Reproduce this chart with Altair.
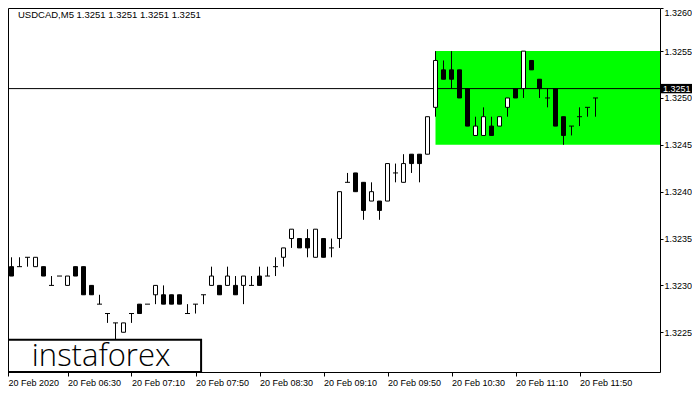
import altair as alt
import pandas as pd

# ---- data (USDCAD M5 candles, 05:50 .. 12:00) ----
opens = [1.3232, 1.3232, 1.3232, 1.3233, 1.3232, 1.3232, 1.3230, 1.3231, 1.3230, 1.3232,
         1.3232, 1.3230, 1.3228, 1.3227, 1.3226, 1.3225, 1.3227, 1.3228, 1.3228, 1.3229,
         1.3229, 1.3229, 1.3229, 1.3227, 1.3228, 1.3229, 1.3230, 1.3230, 1.3230, 1.3230,
         1.3230, 1.3230, 1.3231, 1.3231, 1.3232, 1.3233, 1.3235, 1.3235, 1.3235, 1.3233,
         1.3235, 1.3234, 1.3235, 1.3241, 1.3242, 1.3241, 1.3239, 1.3239, 1.3239, 1.3242,
         1.3241, 1.3244, 1.3244, 1.3244, 1.3249, 1.3253, 1.3253, 1.3253, 1.3251, 1.3246,
         1.3246, 1.3247, 1.3247, 1.3249, 1.3251, 1.3251, 1.3254, 1.3252, 1.3250, 1.3251,
         1.3248, 1.3247, 1.3248, 1.3249, 1.3250]
highs = [1.3233, 1.3233, 1.3233, 1.3233, 1.3233, 1.3232, 1.3231, 1.3231, 1.3231, 1.3232,
         1.3232, 1.3230, 1.3229, 1.3227, 1.3226, 1.3226, 1.3227, 1.3228, 1.3228, 1.3230,
         1.3230, 1.3229, 1.3229, 1.3228, 1.3228, 1.3229, 1.3232, 1.3230, 1.3232, 1.3231,
         1.3231, 1.3231, 1.3232, 1.3232, 1.3233, 1.3234, 1.3236, 1.3235, 1.3236, 1.3236,
         1.3235, 1.3235, 1.3240, 1.3242, 1.3242, 1.3241, 1.3241, 1.3239, 1.3243, 1.3243,
         1.3244, 1.3244, 1.3244, 1.3248, 1.3255, 1.3254, 1.3255, 1.3253, 1.3251, 1.3248,
         1.3249, 1.3248, 1.3248, 1.3250, 1.3251, 1.3255, 1.3254, 1.3252, 1.3251, 1.3251,
         1.3248, 1.3247, 1.3249, 1.3249, 1.3250]
lows = [1.3232, 1.3231, 1.3232, 1.3232, 1.3232, 1.3231, 1.3230, 1.3231, 1.3230, 1.3231,
        1.3229, 1.3229, 1.3228, 1.3226, 1.3223, 1.3225, 1.3226, 1.3227, 1.3228, 1.3228,
        1.3228, 1.3228, 1.3228, 1.3227, 1.3227, 1.3228, 1.3230, 1.3229, 1.3230, 1.3229,
        1.3228, 1.3230, 1.3230, 1.3231, 1.3231, 1.3232, 1.3234, 1.3234, 1.3233, 1.3233,
        1.3233, 1.3233, 1.3234, 1.3241, 1.3240, 1.3237, 1.3239, 1.3237, 1.3239, 1.3241,
        1.3241, 1.3242, 1.3241, 1.3244, 1.3248, 1.3252, 1.3251, 1.3250, 1.3247, 1.3246,
        1.3246, 1.3246, 1.3247, 1.3248, 1.3250, 1.3250, 1.3253, 1.3250, 1.3249, 1.3247,
        1.3245, 1.3246, 1.3247, 1.3248, 1.3248]
closes = [1.3233, 1.3231, 1.3232, 1.3233, 1.3233, 1.3231, 1.3230, 1.3231, 1.3231, 1.3231,
          1.3229, 1.3229, 1.3228, 1.3227, 1.3226, 1.3226, 1.3227, 1.3227, 1.3228, 1.3230,
          1.3228, 1.3228, 1.3228, 1.3227, 1.3228, 1.3229, 1.3231, 1.3229, 1.3231, 1.3229,
          1.3231, 1.3230, 1.3230, 1.3231, 1.3232, 1.3234, 1.3236, 1.3234, 1.3234, 1.3236,
          1.3233, 1.3234, 1.3240, 1.3241, 1.3240, 1.3238, 1.3240, 1.3238, 1.3243, 1.3242,
          1.3243, 1.3243, 1.3243, 1.3248, 1.3254, 1.3252, 1.3252, 1.3250, 1.3247, 1.3247,
          1.3248, 1.3246, 1.3248, 1.3250, 1.3250, 1.3255, 1.3253, 1.3251, 1.3250, 1.3247,
          1.3246, 1.3247, 1.3248, 1.3249, 1.3250]

tick_index = [0, 8, 16, 24, 32, 40, 48, 56, 64, 72]
tick_labels = ["20 Feb 2020", "20 Feb 06:30", "20 Feb 07:10", "20 Feb 07:50", "20 Feb 08:30",
               "20 Feb 09:10", "20 Feb 09:50", "20 Feb 10:30", "20 Feb 11:10", "20 Feb 11:50"]
y_ticks = [1.3225, 1.3230, 1.3235, 1.3240, 1.3245, 1.3250, 1.3255, 1.3260]

title_text = "USDCAD,M5  1.3251 1.3251 1.3251 1.3251"
last_price = 1.3251
zone_low, zone_high, zone_start = 1.3245, 1.3255, 54
logo_text = "instaforex"

# ---- scales ----
X_MIN, X_MAX = 0.5625, 82.0625
Y_MIN, Y_MAX = 1.322076, 1.32596
xs = alt.Scale(domain=[X_MIN, X_MAX], nice=False, zero=False)
ys = alt.Scale(domain=[Y_MIN, Y_MAX], nice=False, zero=False)
FONT = "Liberation Sans"

n = len(opens)
df = pd.DataFrame({"i": list(range(n)), "open": opens, "high": highs,
                   "low": lows, "close": closes})
df["bull"] = df["close"] > df["open"]
df["doji"] = df["close"] == df["open"]

x_vals = [max(t, X_MIN) for t in tick_index]
x_expr = "[" + ",".join("'%s'" % l for l in tick_labels) + "][indexof([" + \
         ",".join(str(v) for v in x_vals) + "], datum.value)]"
y_vals = [min(v, Y_MAX) for v in y_ticks]
y_expr = "datum.value > 1.32575 ? '1.3260' : format(datum.value, '.4f')"

x_axis = alt.Axis(values=x_vals, labelExpr=x_expr, title=None, grid=False, domain=False,
                  tickSize=4, tickColor="black", labelAlign="left", labelBaseline="top",
                  labelPadding=2, labelFont=FONT, labelFontSize=9, labelColor="black",
                  labelOverlap=False, labelFlush=False, labelBound=False)
y_axis = alt.Axis(values=y_vals, labelExpr=y_expr, title=None, grid=False, domain=False,
                  orient="right", tickSize=3, tickColor="black", labelAlign="left",
                  labelPadding=1, labelFont=FONT, labelFontSize=9, labelColor="black",
                  labelOverlap=False, labelFlush=True)


def X(field):
    return alt.X(field, scale=xs, axis=x_axis)


def Y(field):
    return alt.Y(field, scale=ys, axis=y_axis)


zone_df = pd.DataFrame({"x0": [zone_start], "x1": [X_MAX], "y0": [zone_low], "y1": [zone_high]})
zone = alt.Chart(zone_df).mark_rect(color="#00FF00").encode(
    x=X("x0:Q"), x2="x1", y=Y("y0:Q"), y2="y1")

hline = alt.Chart(pd.DataFrame({"p": [last_price]})).mark_rule(
    color="black", strokeWidth=1).encode(y=Y("p:Q"))

base = alt.Chart(df)
wicks = base.mark_rule(color="black", strokeWidth=1).encode(
    x=X("i:Q"), y=Y("low:Q"), y2="high")

bodies = base.transform_filter("!datum.doji").transform_calculate(
    xl="datum.i - 0.25", xr="datum.i + 0.25").mark_rect(
    stroke="black", strokeWidth=1).encode(
    x=X("xl:Q"), x2="xr:Q", y=Y("open:Q"), y2="close:Q",
    fill=alt.condition("datum.bull", alt.value("white"), alt.value("black")))

dojis = base.transform_filter("datum.doji").transform_calculate(
    xl="datum.i - 0.3125", xr="datum.i + 0.3125").mark_rule(
    color="black", strokeWidth=1).encode(
    x=X("xl:Q"), x2="xr:Q", y=Y("open:Q"))

logo_df = pd.DataFrame({"x0": [X_MIN], "x1": [24.7], "y0": [Y_MIN], "y1": [1.32242],
                        "tx": [12.2], "ty": [1.32224], "t": [logo_text]})
logo_box = alt.Chart(logo_df).mark_rect(fill="white", stroke="black", strokeWidth=2).encode(
    x=X("x0:Q"), x2="x1", y=Y("y0:Q"), y2="y1")
logo = alt.Chart(logo_df).mark_text(font="Open Sans", fontWeight=300, fontSize=31,
                                    color="black", align="center", baseline="middle").encode(
    x=X("tx:Q"), y=Y("ty:Q"), text="t:N")

tag_df = pd.DataFrame({"p": [last_price], "lo": [last_price - 0.00005],
                       "hi": [last_price + 0.00005], "t": [f"{last_price:.4f}"]})
tag_box = alt.Chart(tag_df).mark_rect(color="black").encode(
    x=alt.value(652.5), x2=alt.value(684), y=Y("lo:Q"), y2="hi:Q")
tag_text = alt.Chart(tag_df).mark_text(font=FONT, fontSize=9, color="white",
                                       align="left", baseline="middle").encode(
    x=alt.value(655), y=Y("p:Q"), text="t:N")

title = alt.Chart(pd.DataFrame({"t": [title_text]})).mark_text(
    font=FONT, fontSize=9.5, color="black", align="left", baseline="alphabetic").encode(
    x=alt.value(10), y=alt.value(10), text="t:N")

chart = alt.layer(zone, hline, wicks, bodies, dojis, logo_box, logo, tag_box, tag_text, title
                  ).properties(
    width=652, height=364,
    autosize=alt.AutoSizeParams(type="none"),
    padding={"left": 0, "top": 0, "right": 32, "bottom": 16},
    background="white",
).configure_view(stroke="black", strokeWidth=1)

chart.save("out.html", embed_options={"renderer": "svg", "actions": False})
